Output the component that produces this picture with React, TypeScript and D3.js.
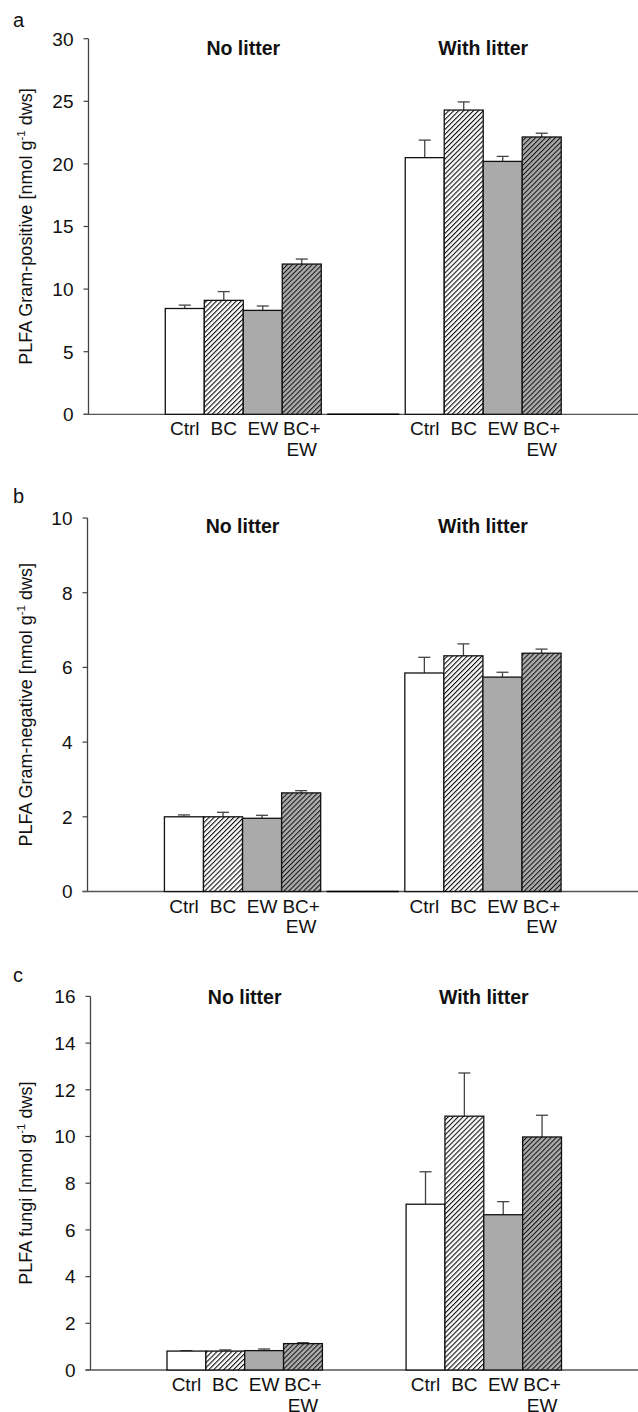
import React from 'react';
import * as d3 from 'd3';

// treatments and litter groups
const treatments = ['Ctrl', 'BC', 'EW', 'BC+EW'];
const groups = ['No litter', 'With litter'];

// PLFA Gram-positive (mean, SE)
const gramPosNoLitter = [8.45, 9.1, 8.3, 12.0];
const gramPosNoLitterSE = [0.27, 0.7, 0.35, 0.4];
const gramPosLitter = [20.5, 24.3, 20.2, 22.15];
const gramPosLitterSE = [1.4, 0.65, 0.4, 0.3];

// PLFA Gram-negative
const gramNegNoLitter = [2.0, 2.0, 1.96, 2.64];
const gramNegNoLitterSE = [0.05, 0.12, 0.08, 0.06];
const gramNegLitter = [5.85, 6.31, 5.74, 6.38];
const gramNegLitterSE = [0.42, 0.32, 0.13, 0.11];

// PLFA fungi
const fungiNoLitter = [0.81, 0.81, 0.83, 1.13];
const fungiNoLitterSE = [0.02, 0.05, 0.07, 0.04];
const fungiLitter = [7.1, 10.87, 6.65, 9.98];
const fungiLitterSE = [1.39, 1.85, 0.56, 0.93];

const yTicksA = [0, 5, 10, 15, 20, 25, 30];
const yTicksB = [0, 2, 4, 6, 8, 10];
const yTicksC = [0, 2, 4, 6, 8, 10, 12, 14, 16];

const FONT = 'Liberation Sans, Arial, Helvetica, sans-serif';
const GRAY = '#aaaaaa';

const panels = [
  {
    letter: 'a', label: 'PLFA Gram-positive', ticks: yTicksA,
    means: [gramPosNoLitter, gramPosLitter], se: [gramPosNoLitterSE, gramPosLitterSE],
    top: 38.7, bottom: 414.3, axisX: 88.5, letterY: 26.7, titleY: 55, divider: true,
  },
  {
    letter: 'b', label: 'PLFA Gram-negative', ticks: yTicksB,
    means: [gramNegNoLitter, gramNegLitter], se: [gramNegNoLitterSE, gramNegLitterSE],
    top: 518, bottom: 891.5, axisX: 87.5, letterY: 503, titleY: 533, divider: true,
  },
  {
    letter: 'c', label: 'PLFA fungi', ticks: yTicksC,
    means: [fungiNoLitter, fungiLitter], se: [fungiNoLitterSE, fungiLitterSE],
    top: 996.4, bottom: 1370, axisX: 90.5, letterY: 982, titleY: 1004, divider: false,
  },
];

const fills = ['#ffffff', 'url(#hatchWhite)', GRAY, 'url(#hatchGray)'];

const Panel = ({ p }) => {
  const y = d3.scaleLinear().domain([0, d3.max(p.ticks)]).range([p.bottom, p.top]);
  const x0 = d3.scaleBand().domain(groups).range([p.axisX, 638]).paddingInner(0.35).paddingOuter(0.32);
  const x1 = d3.scaleBand().domain(treatments).range([0, x0.bandwidth()]);
  const cap = 6;

  return (
    <g>
      <text x={13} y={p.letterY} fontSize={20} fill="#111">{p.letter}</text>
      {groups.map(g => (
        <text key={g} x={x0(g) + x0.bandwidth() / 2} y={p.titleY} textAnchor="middle"
          fontSize={19.5} fontWeight="bold" fill="#111">{g}</text>
      ))}
      <text transform={`translate(32,${(p.top + p.bottom) / 2}) rotate(-90)`} textAnchor="middle"
        fontSize={18} fill="#111">
        {p.label} [nmol g<tspan dy={-7} fontSize={11.5}>-1</tspan><tspan dy={7}> dws]</tspan>
      </text>

      {/* y axis */}
      <line x1={p.axisX} x2={p.axisX} y1={p.top} y2={p.bottom} stroke="#444" strokeWidth={1.3} />
      {p.ticks.map(t => (
        <g key={t}>
          <line x1={p.axisX - 5} x2={p.axisX} y1={y(t)} y2={y(t)} stroke="#444" strokeWidth={1.2} />
          <text x={p.axisX - 15} y={y(t)} dy="0.36em" textAnchor="end" fontSize={19} fill="#111">{t}</text>
        </g>
      ))}
      {/* x axis */}
      <line x1={p.axisX - 5} x2={638} y1={p.bottom} y2={p.bottom} stroke="#555" strokeWidth={1.3} />
      {p.divider && (
        <line x1={x0(groups[0]) + x0.bandwidth() + 6} x2={x0(groups[1]) - 6} y1={p.bottom} y2={p.bottom}
          stroke="#000" strokeWidth={1.6} />
      )}

      {groups.map((g, gi) => (
        <g key={g} transform={`translate(${x0(g)},0)`}>
          {treatments.map((t, ti) => {
            const v = p.means[gi][ti];
            const e = p.se[gi][ti];
            const cx = x1(t) + x1.bandwidth() / 2;
            return (
              <g key={t}>
                <line x1={cx} x2={cx} y1={y(v)} y2={y(v + e)} stroke="#444" strokeWidth={1.3} />
                <line x1={cx - cap} x2={cx + cap} y1={y(v + e)} y2={y(v + e)} stroke="#444" strokeWidth={1.3} />
                <rect x={x1(t)} y={y(v)} width={x1.bandwidth()} height={y(0) - y(v)}
                  fill={fills[ti]} stroke="#111" strokeWidth={1.3} />
                {t === 'BC+EW' ? (
                  <text x={cx} y={p.bottom + 21} textAnchor="middle" fontSize={19} fill="#111">
                    <tspan x={cx}>BC+</tspan>
                    <tspan x={cx} dy={20.5}>EW</tspan>
                  </text>
                ) : (
                  <text x={cx} y={p.bottom + 21} textAnchor="middle" fontSize={19} fill="#111">{t}</text>
                )}
              </g>
            );
          })}
        </g>
      ))}
    </g>
  );
};

export default function App() {
  return (
    <svg width={638} height={1412} style={{ position: 'absolute', left: 0, top: 0, background: '#fff' }}
      fontFamily={FONT}>
      <defs>
        <pattern id="hatchWhite" width={3.5} height={3.5} patternUnits="userSpaceOnUse" patternTransform="rotate(45)">
          <rect width={3.5} height={3.5} fill="#fff" />
          <rect width={1.1} height={3.5} fill="#111" />
        </pattern>
        <pattern id="hatchGray" width={3.5} height={3.5} patternUnits="userSpaceOnUse" patternTransform="rotate(45)">
          <rect width={3.5} height={3.5} fill={GRAY} />
          <rect width={1.0} height={3.5} fill="#111" />
        </pattern>
      </defs>
      <rect width={638} height={1412} fill="#fff" />
      {panels.map(p => <Panel key={p.letter} p={p} />)}
    </svg>
  );
}
